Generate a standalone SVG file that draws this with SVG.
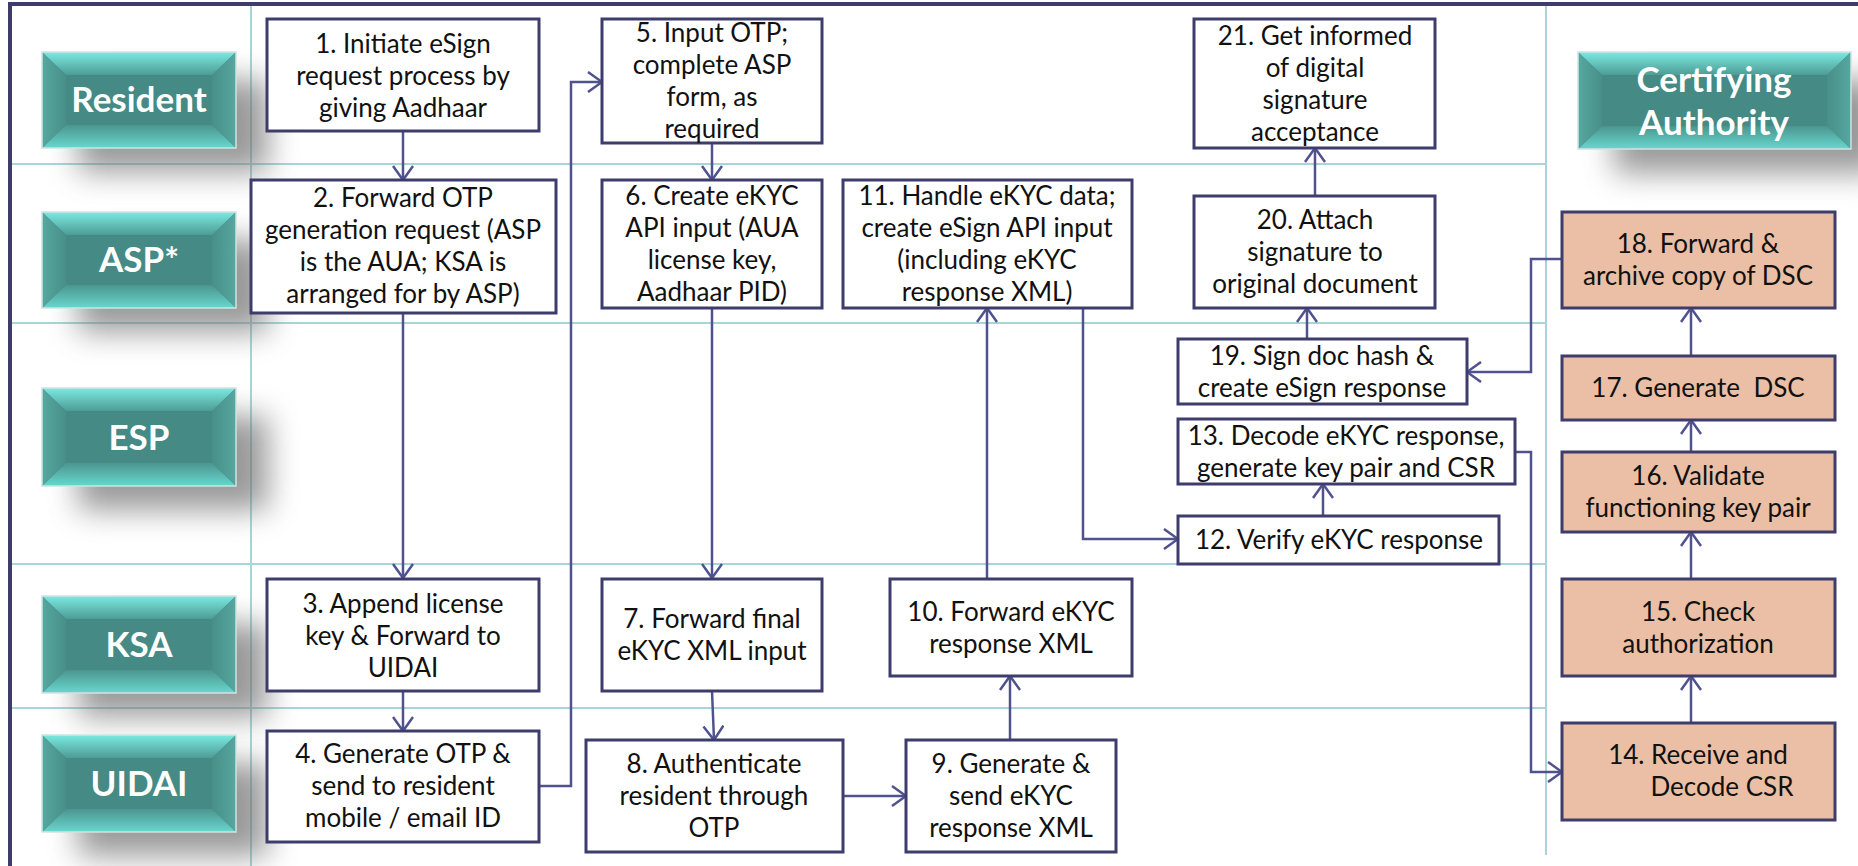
<svg xmlns="http://www.w3.org/2000/svg" width="1858" height="866" viewBox="0 0 1858 866">
<style>
.grid{stroke:#a9d5d8;stroke-width:2;fill:none}
.box{fill:#ffffff;stroke:#3d3c6c;stroke-width:3}
.ca{fill:#ebbfa5;stroke:#3d3c6c;stroke-width:3}
.t{font-family:Lato,"Noto Sans",sans-serif;font-size:26px;fill:#111;text-anchor:middle}
.pre{white-space:pre}
.lt{font-family:Lato,"Noto Sans",sans-serif;font-size:35px;font-weight:bold;fill:#ffffff;text-anchor:middle}
.conn path{stroke:#50528f;stroke-width:2.5;fill:none;marker-end:url(#arr)}
.base{fill:#458a84}
.btop{fill:url(#gTop)}
.bbot{fill:url(#gBot)}
.bl{fill:url(#gL)}
.br{fill:url(#gR)}
.edge{fill:none;stroke:#cfe3e2;stroke-width:1.5}
.shadow{fill:#6e6e6e;filter:url(#blur)}
</style>
<defs>
<linearGradient id="gTop" x1="0" y1="0" x2="0" y2="1"><stop offset="0" stop-color="#7aeae1"/><stop offset="1" stop-color="#4e9c95"/></linearGradient>
<linearGradient id="gBot" x1="0" y1="0" x2="0" y2="1"><stop offset="0" stop-color="#4b968f"/><stop offset="1" stop-color="#68d7ce"/></linearGradient>
<linearGradient id="gL" x1="0" y1="0" x2="1" y2="0"><stop offset="0" stop-color="#55a8a0"/><stop offset="1" stop-color="#488f89"/></linearGradient>
<linearGradient id="gR" x1="0" y1="0" x2="1" y2="0"><stop offset="0" stop-color="#488f89"/><stop offset="1" stop-color="#55a8a0"/></linearGradient>
<filter id="blur" x="-50%" y="-50%" width="200%" height="200%"><feGaussianBlur stdDeviation="15"/></filter>
<marker id="arr" viewBox="0 0 16 22" refX="15" refY="11" markerWidth="16" markerHeight="22" markerUnits="userSpaceOnUse" orient="auto"><path d="M1,1 L15,11 L1,21" fill="none" stroke="#50528f" stroke-width="2.5"/></marker>
</defs>
<rect x="0" y="0" width="1858" height="866" fill="#ffffff"/>
<g id="frame">
<rect x="10" y="4" width="1900" height="900" fill="none" stroke="#3d3c6c" stroke-width="4"/>
<line class="grid" x1="251" y1="6" x2="251" y2="866"/>
<line class="grid" x1="1546" y1="6" x2="1546" y2="855"/>
<line class="grid" x1="12" y1="164" x2="1546" y2="164"/>
<line class="grid" x1="12" y1="323" x2="1546" y2="323"/>
<line class="grid" x1="12" y1="564" x2="1546" y2="564"/>
<line class="grid" x1="12" y1="708" x2="1546" y2="708"/>
</g>
<g id="shadows">
<rect class="shadow" x="78" y="80" width="190" height="92" opacity="0.7"/>
<rect class="shadow" x="78" y="240" width="190" height="92" opacity="0.7"/>
<rect class="shadow" x="78" y="416" width="190" height="94" opacity="0.7"/>
<rect class="shadow" x="78" y="624" width="190" height="93" opacity="0.7"/>
<rect class="shadow" x="78" y="763" width="190" height="93" opacity="0.7"/>
<rect class="shadow" x="1614" y="80" width="269" height="93" opacity="0.7"/>
</g>
<g id="lane-resident">
<rect class="base" x="42" y="52" width="194" height="96"/>
<polygon class="btop" points="42,52 236,52 212,75 66,75"/>
<polygon class="bbot" points="42,148 236,148 212,125 66,125"/>
<polygon class="bl" points="42,52 66,75 66,125 42,148"/>
<polygon class="br" points="236,52 212,75 212,125 236,148"/>
<rect class="edge" x="42" y="52" width="194" height="96"/>
<text class="lt" x="139" y="112">Resident</text>
</g>
<g id="lane-asp">
<rect class="base" x="42" y="212" width="194" height="96"/>
<polygon class="btop" points="42,212 236,212 212,235 66,235"/>
<polygon class="bbot" points="42,308 236,308 212,285 66,285"/>
<polygon class="bl" points="42,212 66,235 66,285 42,308"/>
<polygon class="br" points="236,212 212,235 212,285 236,308"/>
<rect class="edge" x="42" y="212" width="194" height="96"/>
<text class="lt" x="139" y="272">ASP*</text>
</g>
<g id="lane-esp">
<rect class="base" x="42" y="388" width="194" height="98"/>
<polygon class="btop" points="42,388 236,388 212,411 66,411"/>
<polygon class="bbot" points="42,486 236,486 212,463 66,463"/>
<polygon class="bl" points="42,388 66,411 66,463 42,486"/>
<polygon class="br" points="236,388 212,411 212,463 236,486"/>
<rect class="edge" x="42" y="388" width="194" height="98"/>
<text class="lt" x="139" y="450">ESP</text>
</g>
<g id="lane-ksa">
<rect class="base" x="42" y="596" width="194" height="97"/>
<polygon class="btop" points="42,596 236,596 212,619 66,619"/>
<polygon class="bbot" points="42,693 236,693 212,670 66,670"/>
<polygon class="bl" points="42,596 66,619 66,670 42,693"/>
<polygon class="br" points="236,596 212,619 212,670 236,693"/>
<rect class="edge" x="42" y="596" width="194" height="97"/>
<text class="lt" x="139" y="657">KSA</text>
</g>
<g id="lane-uidai">
<rect class="base" x="42" y="735" width="194" height="97"/>
<polygon class="btop" points="42,735 236,735 212,758 66,758"/>
<polygon class="bbot" points="42,832 236,832 212,809 66,809"/>
<polygon class="bl" points="42,735 66,758 66,809 42,832"/>
<polygon class="br" points="236,735 212,758 212,809 236,832"/>
<rect class="edge" x="42" y="735" width="194" height="97"/>
<text class="lt" x="139" y="796">UIDAI</text>
</g>
<g id="lane-ca">
<rect class="base" x="1578" y="52" width="273" height="97"/>
<polygon class="btop" points="1578,52 1851,52 1827,75 1602,75"/>
<polygon class="bbot" points="1578,149 1851,149 1827,126 1602,126"/>
<polygon class="bl" points="1578,52 1602,75 1602,126 1578,149"/>
<polygon class="br" points="1851,52 1827,75 1827,126 1851,149"/>
<rect class="edge" x="1578" y="52" width="273" height="97"/>
<text class="lt" x="1714" y="92">Certifying</text>
<text class="lt" x="1714" y="135">Authority</text>
</g>
<g class="conn" id="connectors">
<path d="M403,131 V180"/>
<path d="M403,313 V578"/>
<path d="M403,691 V731"/>
<path d="M539,786 H571 V82 H602"/>
<path d="M712,143 V180"/>
<path d="M712,308 V578"/>
<path d="M712,691 L714,740"/>
<path d="M843,796 H906"/>
<path d="M1010,740 V676"/>
<path d="M987,578 V308"/>
<path d="M1083,308 V539 H1178"/>
<path d="M1323,516 V484"/>
<path d="M1515,452 H1531 V772 H1562"/>
<path d="M1691,723 V676"/>
<path d="M1691,579 V532"/>
<path d="M1691,452 V420"/>
<path d="M1691,356 V308"/>
<path d="M1562,259 H1531 V372 H1467"/>
<path d="M1307,339 V308"/>
<path d="M1315,196 V148"/>
</g>
<g id="n1"><rect class="box" x="267" y="19" width="272" height="112"/>
<text class="t" x="403" y="53">1. Initiate eSign</text><text class="t" x="403" y="85">request process by</text><text class="t" x="403" y="117">giving Aadhaar</text></g>
<g id="n2"><rect class="box" x="251" y="180" width="305" height="133"/>
<text class="t" x="403" y="207">2. Forward OTP</text><text class="t" x="403" y="239">generation request (ASP</text><text class="t" x="403" y="271">is the AUA; KSA is</text><text class="t" x="403" y="303">arranged for by ASP)</text></g>
<g id="n3"><rect class="box" x="267" y="579" width="272" height="112"/>
<text class="t" x="403" y="613">3. Append license</text><text class="t" x="403" y="645">key &amp; Forward to</text><text class="t" x="403" y="677">UIDAI</text></g>
<g id="n4"><rect class="box" x="267" y="731" width="272" height="111"/>
<text class="t" x="403" y="763">4. Generate OTP &amp;</text><text class="t" x="403" y="795">send to resident</text><text class="t" x="403" y="827">mobile / email ID</text></g>
<g id="n5"><rect class="box" x="602" y="19" width="220" height="124"/>
<text class="t" x="712" y="42">5. Input OTP;</text><text class="t" x="712" y="74">complete ASP</text><text class="t" x="712" y="106">form, as</text><text class="t" x="712" y="138">required</text></g>
<g id="n6"><rect class="box" x="602" y="180" width="220" height="128"/>
<text class="t" x="712" y="205">6. Create eKYC</text><text class="t" x="712" y="237">API input (AUA</text><text class="t" x="712" y="269">license key,</text><text class="t" x="712" y="301">Aadhaar PID)</text></g>
<g id="n7"><rect class="box" x="602" y="579" width="220" height="112"/>
<text class="t" x="712" y="628">7. Forward final</text><text class="t" x="712" y="660">eKYC XML input</text></g>
<g id="n8"><rect class="box" x="586" y="740" width="257" height="112"/>
<text class="t" x="714" y="773">8. Authenticate</text><text class="t" x="714" y="805">resident through</text><text class="t" x="714" y="837">OTP</text></g>
<g id="n9"><rect class="box" x="906" y="740" width="210" height="112"/>
<text class="t" x="1011" y="773">9. Generate &amp;</text><text class="t" x="1011" y="805">send eKYC</text><text class="t" x="1011" y="837">response XML</text></g>
<g id="n10"><rect class="box" x="890" y="579" width="242" height="97"/>
<text class="t" x="1011" y="621">10. Forward eKYC</text><text class="t" x="1011" y="653">response XML</text></g>
<g id="n11"><rect class="box" x="843" y="180" width="289" height="128"/>
<text class="t" x="987" y="205">11. Handle eKYC data;</text><text class="t" x="987" y="237">create eSign API input</text><text class="t" x="987" y="269">(including eKYC</text><text class="t" x="987" y="301">response XML)</text></g>
<g id="n12"><rect class="box" x="1178" y="516" width="321" height="48"/>
<text class="t" x="1339" y="549">12. Verify eKYC response</text></g>
<g id="n13"><rect class="box" x="1178" y="419" width="337" height="65"/>
<text class="t" x="1346" y="445">13. Decode eKYC response,</text><text class="t" x="1346" y="477">generate key pair and CSR</text></g>
<g id="n14"><rect class="ca" x="1562" y="723" width="273" height="97"/>
<text class="t" x="1698" y="764">14. Receive and</text><text class="t" x="1722" y="796">Decode CSR</text></g>
<g id="n15"><rect class="ca" x="1562" y="579" width="273" height="97"/>
<text class="t" x="1698" y="621">15. Check</text><text class="t" x="1698" y="653">authorization</text></g>
<g id="n16"><rect class="ca" x="1562" y="452" width="273" height="80"/>
<text class="t" x="1698" y="485">16. Validate</text><text class="t" x="1698" y="517">functioning key pair</text></g>
<g id="n17"><rect class="ca" x="1562" y="356" width="273" height="64"/>
<text class="t pre" x="1698" y="397">17. Generate  DSC</text></g>
<g id="n18"><rect class="ca" x="1562" y="212" width="273" height="96"/>
<text class="t" x="1698" y="253">18. Forward &amp;</text><text class="t" x="1698" y="285">archive copy of DSC</text></g>
<g id="n19"><rect class="box" x="1178" y="339" width="289" height="65"/>
<text class="t" x="1322" y="365">19. Sign doc hash &amp;</text><text class="t" x="1322" y="397">create eSign response</text></g>
<g id="n20"><rect class="box" x="1194" y="196" width="241" height="112"/>
<text class="t" x="1315" y="229">20. Attach</text><text class="t" x="1315" y="261">signature to</text><text class="t" x="1315" y="293">original document</text></g>
<g id="n21"><rect class="box" x="1194" y="19" width="241" height="129"/>
<text class="t" x="1315" y="45">21. Get informed</text><text class="t" x="1315" y="77">of digital</text><text class="t" x="1315" y="109">signature</text><text class="t" x="1315" y="141">acceptance</text></g>
</svg>
